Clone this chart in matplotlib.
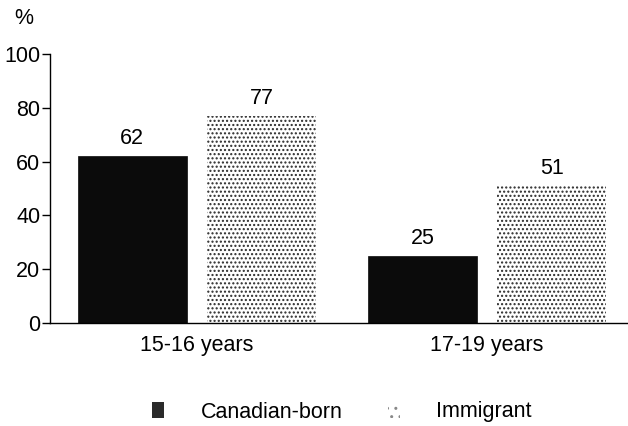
import matplotlib
matplotlib.use("Agg")
import matplotlib.pyplot as plt
from matplotlib.patches import Patch
import numpy as np

categories = ["15-16 years", "17-19 years"]
series_names = ["Canadian-born", "Immigrant"]
canadian_born = [62, 25]
immigrant = [77, 51]
yticks = [0, 20, 40, 60, 80, 100]

plt.rcParams['font.family'] = ['Liberation Sans', 'DejaVu Sans']
plt.rcParams['hatch.linewidth'] = 1.0
FS = 15.5

fig = plt.figure(figsize=(6.28, 4.26), dpi=100)
ax = fig.add_axes([50/628, 103/426, 578/628, 269/426])

x = np.arange(len(categories))
w = 0.376
off = 0.223
b1 = ax.bar(x - off, canadian_born, w, color='#0b0b0b', edgecolor='#0b0b0b', linewidth=0.5)
b2 = ax.bar(x + off, immigrant, w, facecolor='white', edgecolor='#2a2a2a', hatch='....', linewidth=0)

for bars, vals in ((b1, canadian_born), (b2, immigrant)):
    for r, v in zip(bars, vals):
        ax.text(r.get_x() + r.get_width()/2, v + 2.6, f"{v}", ha='center', va='bottom', fontsize=FS)

ax.set_xlim(-0.507, 1.486)
ax.set_ylim(0, 100)
ax.set_yticks(yticks)
ax.set_xticks(x)
ax.set_xticklabels(categories, fontsize=FS)
ax.tick_params(axis='y', labelsize=FS, length=6, width=1, direction='out', pad=1)
ax.tick_params(axis='x', length=0, pad=9)
for s in ('top', 'right'):
    ax.spines[s].set_visible(False)
ax.spines['left'].set_linewidth(1)
ax.spines['bottom'].set_linewidth(1)

fig.text(14/628, 1 - 19/426, "%", fontsize=FS, ha='left', va='center')

handles = [Patch(facecolor='#2a2a2a', edgecolor='none', hatch=None),
           Patch(facecolor='white', edgecolor='#888888', hatch='..', linewidth=0)]
fig.legend(handles, series_names, loc='center', bbox_to_anchor=(342/628, 1 - 412/426),
           ncol=2, frameon=False, fontsize=FS, handlelength=0.55, handleheight=0.7,
           handletextpad=1.7, columnspacing=2.1)

fig.savefig("out.png", dpi=100)
